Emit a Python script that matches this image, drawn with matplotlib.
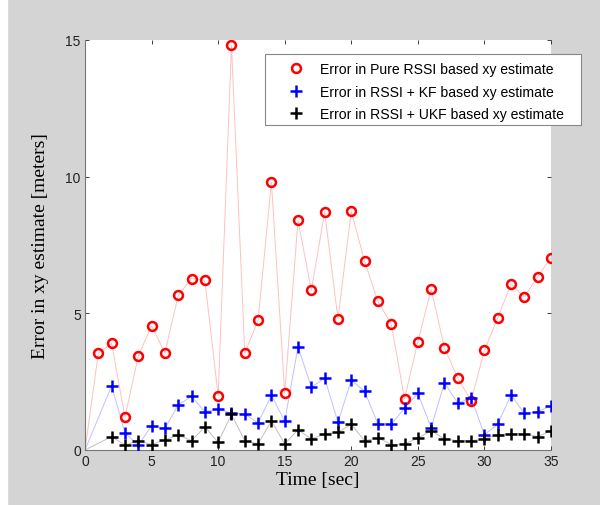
import numpy as np
import matplotlib
matplotlib.use("Agg")
from matplotlib import pyplot as plt

# time axis (sec)
t_red = list(range(0, 36))
t_filt = [0] + list(range(2, 36))

# error in pure RSSI based xy estimate
err_rssi = [0, 3.55, 3.9, 1.2, 3.44, 4.55, 3.55, 5.66, 6.27, 6.21,
            1.99, 14.81, 3.54, 4.74, 9.8, 2.07, 8.4, 5.84, 8.71, 4.79,
            8.74, 6.9, 5.44, 4.62, 1.87, 3.96, 5.89, 3.73, 2.63, 1.79,
            3.65, 4.83, 6.07, 5.6, 6.34, 7.04]

# error in RSSI + KF based xy estimate
err_kf = [0, 2.35, 0.62, 0.17, 0.89, 0.79, 1.65, 1.96, 1.4,
          1.5, 1.35, 1.32, 0.99, 2.0, 1.05, 3.78, 2.29, 2.63, 1.01,
          2.56, 2.15, 0.95, 0.95, 1.52, 2.07, 0.82, 2.46, 1.71, 1.91,
          0.56, 0.94, 2.02, 1.34, 1.4, 1.62]

# error in RSSI + UKF based xy estimate
err_ukf = [0, 0.49, 0.18, 0.34, 0.2, 0.37, 0.55, 0.34, 0.85,
           0.28, 1.3, 0.34, 0.22, 1.07, 0.22, 0.74, 0.4, 0.59, 0.65,
           0.94, 0.34, 0.45, 0.2, 0.22, 0.43, 0.71, 0.4, 0.34, 0.34,
           0.4, 0.56, 0.6, 0.6, 0.49, 0.71]

labels = ["Error in Pure RSSI based xy estimate",
          "Error in RSSI + KF based xy estimate",
          "Error in RSSI + UKF based xy estimate"]

fig = plt.figure(figsize=(6, 5.06), dpi=100, facecolor="#d4d4d4")
fig.patches.append(plt.Rectangle((0, 0), 0.011, 1, transform=fig.transFigure,
                                 color="white", zorder=0))
ax = fig.add_axes([0.1417, 0.1087, 0.7766, 0.8103])
ax.set_facecolor("white")

# faint connecting lines
ax.plot(t_red, err_rssi, color="#ffc0c0", lw=0.7, zorder=1)
ax.plot(t_filt, err_kf, color="#c0c0ff", lw=0.7, zorder=1)
ax.plot(t_filt, err_ukf, color="#c0c0c0", lw=0.7, zorder=1)

# markers
ax.plot(t_red[1:], err_rssi[1:], "o", mfc="none", mec="red", ms=6.4, mew=1.8,
        label=labels[0], zorder=3)
ax.plot(t_filt[1:], err_kf[1:], "+", color="blue", ms=8, mew=1.8,
        label=labels[1], zorder=3)
ax.plot(t_filt[1:], err_ukf[1:], "+", color="black", ms=8, mew=1.8,
        label=labels[2], zorder=4)

ax.set_xlim(0, 35)
ax.set_ylim(0, 15)
ax.set_xticks(range(0, 36, 5))
ax.set_yticks([0, 5, 10, 15])
ax.tick_params(direction="in", length=3, width=0.6, top=True, right=True,
               labelsize=10, colors="#222222", pad=3)
for lab in ax.get_xticklabels() + ax.get_yticklabels():
    lab.set_family("Liberation Sans")
for side in ["top", "right"]:
    ax.spines[side].set_visible(False)
for side in ["left", "bottom"]:
    ax.spines[side].set_color("#777777")
    ax.spines[side].set_linewidth(0.8)

ax.set_xlabel("Time [sec]", family="Liberation Serif", fontsize=14, labelpad=2)
ax.set_ylabel("Error in xy estimate [meters]", family="Liberation Serif",
              fontsize=14, labelpad=12)

# legend box sticks out past the right edge of the axes, as in the original
box = plt.Rectangle((0.3863, 0.7927), 0.678, 0.1732, transform=ax.transAxes,
                    facecolor="white", edgecolor="#888888", lw=0.8,
                    clip_on=False, zorder=5)
ax.add_patch(box)
leg = ax.legend(loc="upper left", bbox_to_anchor=(0.3863, 0.9659),
                borderaxespad=0, frameon=False,
                prop={"family": "Liberation Sans", "size": 10.1},
                handlelength=3.22, handletextpad=0.1, borderpad=0.6,
                labelspacing=0.58)
leg.set_zorder(6)

fig.savefig("out.png", dpi=100, facecolor=fig.get_facecolor())
